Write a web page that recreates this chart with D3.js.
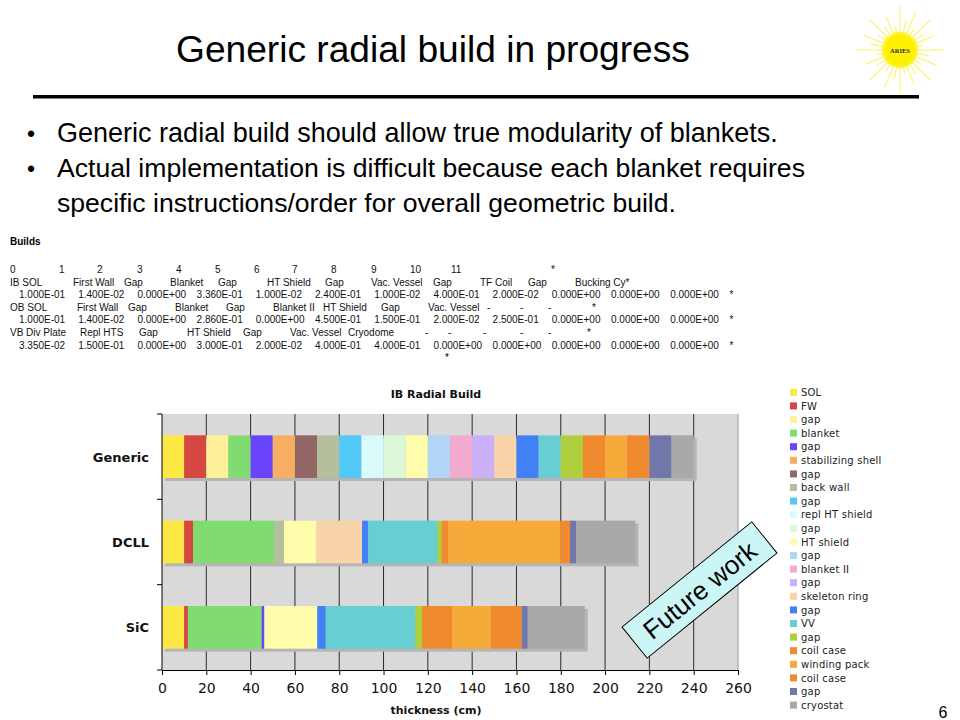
<!DOCTYPE html>
<html><head><meta charset="utf-8">
<script src="https://cdn.jsdelivr.net/npm/d3@7"></script>
<style>
body{margin:0;background:#fff}
svg{display:block}
</style>
</head><body>
<svg id="c" width="960" height="720"></svg>
<script>
// ---------------- data ----------------
const categories = ["Generic", "DCLL", "SiC"];
const layers = ["SOL","FW","gap","blanket","gap","stabilizing shell","gap","back wall","gap",
  "repl HT shield","gap","HT shield","gap","blanket II","gap","skeleton ring","gap","VV","gap",
  "coil case","winding pack","coil case","gap","cryostat"];
const layerColors = ["#fde945","#d6473f","#fff09c","#80dc70","#6a44fb","#f6ae62","#946767","#b5bf9e",
  "#52c9f7","#d9fbfb","#dcf8d8","#fffcab","#b2d6f6","#f3aad1","#ccb0f7","#f9d4a9","#4180f5","#67cfd4",
  "#b0cf3e","#f08a2e","#f6aa3a","#f08a2e","#7177a8","#a9a9a9"];
const genericValues = [10,10,10,10,10,10,10,10,10,10,10,10,10,10,10,10,10,10,10,10,10,10,10,10];
const dcllValues    = [10,4,0,36.7,0,0,0,4.4,0,0,0,14.7,0,0,0,20.5,2.8,31.2,1.9,3.0,50.5,4.5,2.7,26.8];
const sicValues     = [10,1.7,0,33.3,1.2,0,0,0,0,0,0,23.9,0,0,0,0,3.8,40.5,3.0,13.5,17.5,14.0,2.7,25.7];
const xTicks = [0,20,40,60,80,100,120,140,160,180,200,220,240,260];

const titleText = "Generic radial build in progress";
const bullets = ["Generic radial build should allow true modularity of blankets.",
  "Actual implementation is difficult because each blanket requires",
  "specific instructions/order for overall geometric build."];
const buildsHeader = ["0","1","2","3","4","5","6","7","8","9","10","11","*"];
const buildsIB = ["IB SOL","First Wall","Gap","Blanket","Gap","HT Shield","Gap","Vac. Vessel","Gap","TF Coil","Gap","Bucking Cy*"];
const buildsIBVals = ["1.000E-01","1.400E-02","0.000E+00","3.360E-01","1.000E-02","2.400E-01","1.000E-02","4.000E-01","2.000E-02","0.000E+00","0.000E+00","0.000E+00","*"];
const buildsOB = ["OB SOL","First Wall","Gap","Blanket","Gap","Blanket II","HT Shield","Gap","Vac. Vessel","-","-","-","*"];
const buildsOBVals = ["1.000E-01","1.400E-02","0.000E+00","2.860E-01","0.000E+00","4.500E-01","1.500E-01","2.000E-02","2.500E-01","0.000E+00","0.000E+00","0.000E+00","*"];
const buildsVB = ["VB Div Plate","Repl HTS","Gap","HT Shield","Gap","Vac. Vessel","Cryodome","-","-","-","-","-","*"];
const buildsVBVals = ["3.350E-02","1.500E-01","0.000E+00","3.000E-01","2.000E-02","4.000E-01","4.000E-01","0.000E+00","0.000E+00","0.000E+00","0.000E+00","0.000E+00","*"];

// ---------------- drawing ----------------
const svg = d3.select("#c");
const SANS = "'Liberation Sans', Arial, sans-serif";
const DV = "'DejaVu Sans', Verdana, sans-serif";

function fit(sel, target) {
  const fs = parseFloat(sel.attr("font-size"));
  const w = sel.node().getComputedTextLength();
  const n = fs * target / w;
  sel.attr("font-size", n);
  return n;
}

// Title
const t = svg.append("text").attr("x", 176).attr("y", 62).attr("font-family", SANS)
  .attr("font-size", 34).attr("fill", "#000").text(titleText);
fit(t, 514);
svg.append("rect").attr("x", 33).attr("y", 95).attr("width", 886).attr("height", 3.5).attr("fill", "#000");

// Logo (sun)
const logo = svg.append("g").attr("transform", "translate(900,50)");
const rayLens = [44, 30, 40, 26, 43, 28, 36, 24];
d3.range(32).forEach(i => {
  const a = i / 32 * 2 * Math.PI;
  const L = rayLens[i % rayLens.length];
  logo.append("line").attr("x1", Math.cos(a) * 16).attr("y1", Math.sin(a) * 16)
    .attr("x2", Math.cos(a) * L).attr("y2", Math.sin(a) * L)
    .attr("stroke", "#fbf56a").attr("stroke-width", 1.1);
});
const defs = svg.append("defs");
const rg = defs.append("radialGradient").attr("id", "sun");
rg.append("stop").attr("offset", "0%").attr("stop-color", "#ffee00");
rg.append("stop").attr("offset", "80%").attr("stop-color", "#fff000");
rg.append("stop").attr("offset", "100%").attr("stop-color", "#fff566");
logo.append("circle").attr("r", 18.5).attr("fill", "url(#sun)");
logo.append("text").attr("y", 2.5).attr("text-anchor", "middle").attr("font-family", "'Liberation Serif', serif")
  .attr("font-weight", "bold").attr("font-size", 6.5).attr("fill", "#2a2a55").text("ARIES");

// Bullets
const bulletTargets = [721, 748, 619];
bullets.forEach((b, i) => {
  const by = 142 + i * 35;
  if (i < 2) svg.append("text").attr("x", 27).attr("y", by).attr("font-family", SANS).attr("font-size", 23).text("\u2022");
  const tt = svg.append("text").attr("x", 57).attr("y", by).attr("font-family", SANS).attr("font-size", 23).text(b);
  fit(tt, bulletTargets[i]);
});

// Builds text block
svg.append("text").attr("x", 10).attr("y", 245).attr("font-family", SANS).attr("font-size", 10)
  .attr("font-weight", "bold").text("Builds");
const hdrX = [10, 59, 97, 137, 176, 215, 254, 292, 331, 371, 410, 451, 551];
const ibX = [10, 73, 124, 170, 218, 267, 325, 371, 433, 480, 528, 575];
const valX = d3.range(13).map(j => 19 + j * 59.2);
const obX = [10, 77, 128, 175, 226, 273, 323, 381, 428, 487, 520, 548, 592];
const vbX = [10, 80, 139, 187, 243, 290, 348, 425, 448, 483, 520, 548, 587];
const rows = [[buildsHeader, hdrX], [buildsIB, ibX], [buildsIBVals, valX], [buildsOB, obX],
  [buildsOBVals, valX], [buildsVB, vbX], [buildsVBVals, valX]];
rows.forEach((r, i) => {
  const y = 273 + i * 12.6;
  r[0].forEach((tok, j) => {
    svg.append("text").attr("x", r[1][j]).attr("y", y).attr("font-family", SANS)
      .attr("font-size", 10).attr("fill", "#111").text(tok);
  });
});
svg.append("text").attr("x", 445).attr("y", 361).attr("font-family", SANS).attr("font-size", 10).text("*");

// Chart
const M = {left: 162, right: 738, top: 414, bottom: 670};
const x = d3.scaleLinear().domain([0, 260]).range([M.left, M.right]);
const y = d3.scaleBand().domain(categories).range([M.top, M.bottom]).paddingInner(0.5).paddingOuter(0.25);
const seriesValues = [genericValues, dcllValues, sicValues];
const rowsData = categories.map((c, i) => ({cat: c, values: seriesValues[i]}));
const stack = d3.stack().keys(d3.range(layers.length)).value((d, k) => d.values[k]);
const stacked = stack(rowsData);

const chart = svg.append("g");
chart.append("rect").attr("x", M.left).attr("y", M.top).attr("width", M.right - M.left)
  .attr("height", M.bottom - M.top).attr("fill", "#d9d9d9");
// gridlines
chart.append("g").selectAll("line").data(xTicks.filter(v => v > 0)).join("line")
  .attr("x1", d => x(d)).attr("x2", d => x(d)).attr("y1", M.top).attr("y2", M.bottom)
  .attr("stroke", d => d === 260 ? "#9a9a9a" : "#2a2a2a").attr("stroke-width", 1);

// shadows
chart.append("g").selectAll("rect").data(rowsData).join("rect")
  .attr("x", x(0) + 3).attr("y", d => y(d.cat) + 3)
  .attr("width", d => x(d3.sum(d.values)) - x(0)).attr("height", y.bandwidth())
  .attr("fill", "#b5b5b5");
// bars
chart.append("g").selectAll("g").data(stacked).join("g")
  .attr("fill", d => layerColors[d.key])
  .selectAll("rect").data(d => d).join("rect")
  .attr("x", d => x(d[0])).attr("width", d => x(d[1]) - x(d[0]))
  .attr("y", d => y(d.data.cat)).attr("height", y.bandwidth());

// axes
const xAxis = chart.append("g").attr("transform", `translate(0,${M.bottom})`)
  .call(d3.axisBottom(x).tickValues(xTicks).tickSize(5).tickPadding(8).tickFormat(d3.format("d")));
xAxis.select(".domain").attr("stroke", "#000");
xAxis.selectAll(".tick line").attr("stroke", "#000");
xAxis.selectAll("text").attr("font-family", DV).attr("font-size", 14).attr("fill", "#111");

chart.append("line").attr("x1", M.left).attr("x2", M.left).attr("y1", M.top).attr("y2", M.bottom).attr("stroke", "#000");
const bounds = categories.map(c => y(c) - (y.step() - y.bandwidth()) / 2);
bounds.push(M.bottom);
bounds[0] = M.top;
chart.append("g").selectAll("line").data(bounds).join("line")
  .attr("x1", M.left - 5).attr("x2", M.left).attr("y1", d => d).attr("y2", d => d).attr("stroke", "#000");
chart.append("g").selectAll("text").data(categories).join("text")
  .attr("x", M.left - 13).attr("y", d => y(d) + y.bandwidth() / 2 + 5)
  .attr("text-anchor", "end").attr("font-family", DV).attr("font-weight", "bold")
  .attr("font-size", 13).attr("fill", "#111").text(d => d);

chart.append("text").attr("x", 436).attr("y", 398).attr("text-anchor", "middle")
  .attr("font-family", DV).attr("font-weight", "bold").attr("font-size", 11).attr("fill", "#111")
  .text("IB Radial Build");
chart.append("text").attr("x", 436).attr("y", 714).attr("text-anchor", "middle")
  .attr("font-family", DV).attr("font-weight", "bold").attr("font-size", 11).attr("fill", "#111")
  .text("thickness (cm)");

// legend
const lg = svg.append("g").selectAll("g").data(layers).join("g")
  .attr("transform", (d, i) => `translate(790,${392.3 + i * 13.6})`);
lg.append("rect").attr("x", 0).attr("y", -3.5).attr("width", 7).attr("height", 7)
  .attr("fill", (d, i) => layerColors[i]);
lg.append("text").attr("x", 11).attr("y", 3.6).attr("font-family", DV).attr("font-size", 10)
  .attr("letter-spacing", 0.2).attr("fill", "#222").text(d => d);

// Future work box
const fw = svg.append("g").attr("transform", "translate(699.5,590) rotate(-39)");
fw.append("rect").attr("x", -83.5).attr("y", -20).attr("width", 167).attr("height", 40)
  .attr("fill", "#ccf6f6").attr("stroke", "#000").attr("stroke-width", 1);
fw.append("text").attr("x", 0).attr("y", 9.5).attr("text-anchor", "middle").attr("font-family", SANS)
  .attr("font-size", 26).attr("fill", "#000").text("Future work");

// slide number
svg.append("text").attr("x", 943).attr("y", 718).attr("text-anchor", "middle").attr("font-family", SANS)
  .attr("font-size", 16).text("6");
</script>
</body></html>
